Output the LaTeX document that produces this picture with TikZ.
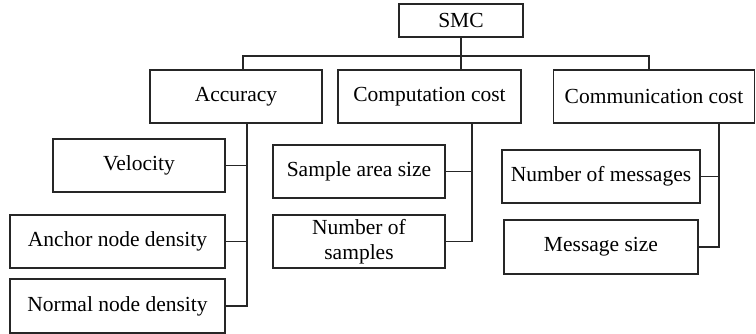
\documentclass[tikz,border=0pt]{standalone}
\usepackage{fontspec}
\setmainfont{Liberation Serif}
\usepackage{tikz}
\usetikzlibrary{positioning}

\tikzset{
  box/.style={draw=black!85, line width=1.3pt, inner sep=0pt, align=center,
    font=\fontsize{21.5}{25}\selectfont},
  link/.style={draw=black!85, line width=1.2pt}
}

\begin{document}
\begin{tikzpicture}[x=1pt,y=-1pt]
\useasboundingbox (0,0) rectangle (756,334);

% top level
\node[box, minimum width=124pt, minimum height=33pt] (smc) at (461,20.5) {SMC};

\node[box, minimum width=172pt, minimum height=53pt] (acc) at (236,96.5) {Accuracy};
\node[box, minimum width=183pt, minimum height=53pt] (comp) at (429.5,96.5) {Computation cost};
\node[box, minimum width=201pt, minimum height=53pt] (comm) at (654,96.5) {Communication cost};

% accuracy
\node[box, minimum width=172pt, minimum height=53pt] (vel) at (139,165.5) {Velocity};
\node[box, minimum width=215pt, minimum height=53pt] (anc) at (117.5,241.5) {Anchor node density};
\node[box, minimum width=215pt, minimum height=54pt] (nor) at (117.5,306) {Normal node density};

% computation cost
\node[box, minimum width=172pt, minimum height=53pt] (sas) at (359,171.5) {Sample area size};
\node[box, minimum width=172pt, minimum height=53pt] (nos) at (359,241.5) {Number of\\samples};

% communication cost
\node[box, minimum width=198pt, minimum height=53pt] (nom) at (601,176.5) {Number of messages};
\node[box, minimum width=194pt, minimum height=54pt] (ms) at (601,247) {Message size};

% bus
\coordinate (busL) at (243,56);
\coordinate (busR) at (649,56);
\draw[link] (busL |- acc.north) -- (busL) -- (busR) -- (busR |- comm.north);
\draw[link] (smc.south) -- (smc.south |- comp.north);

% branches
\coordinate (accB) at (247,0);
\coordinate (compB) at (472,0);
\coordinate (commB) at (719,0);

\draw[link] (accB |- acc.south) -- (accB |- nor.east) -- (nor.east);
\draw[link] (vel.east) -- (vel.east -| accB);
\draw[link] (anc.east) -- (anc.east -| accB);

\draw[link] (compB |- comp.south) -- (compB |- nos.east) -- (nos.east);
\draw[link] (sas.east) -- (sas.east -| compB);

\draw[link] (commB |- comm.south) -- (commB |- ms.east) -- (ms.east);
\draw[link] (nom.east) -- (nom.east -| commB);

\end{tikzpicture}
\end{document}
